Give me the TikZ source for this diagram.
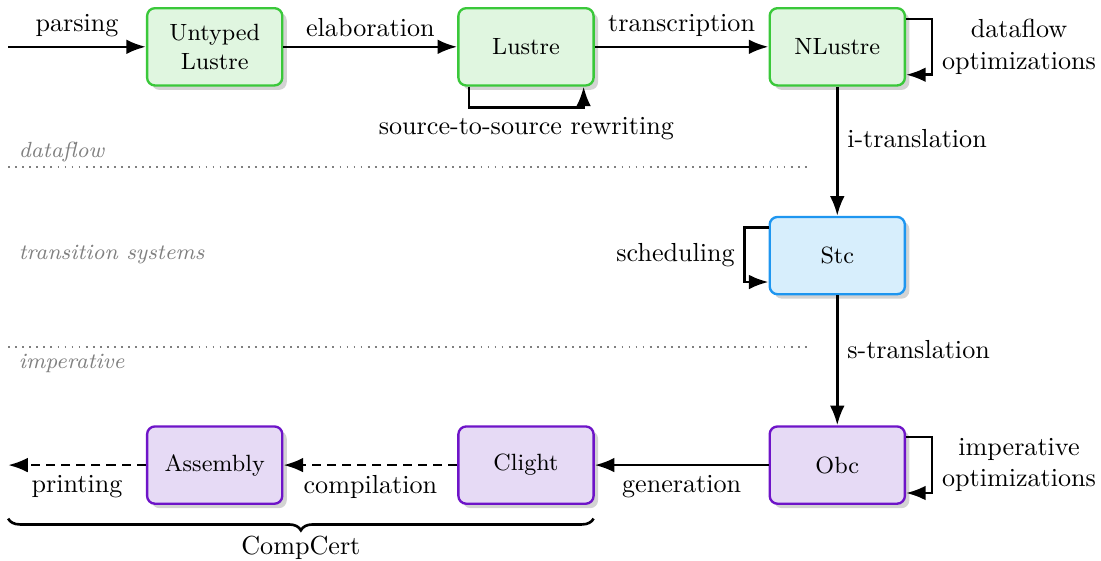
\documentclass[tikz,border=0pt]{standalone}
\usetikzlibrary{arrows.meta,positioning,shadows,decorations.pathreplacing}
\definecolor{dfline}{RGB}{58,200,58}
\definecolor{dffill}{RGB}{224,246,224}
\definecolor{tsline}{RGB}{30,150,240}
\definecolor{tsfill}{RGB}{215,238,252}
\definecolor{imline}{RGB}{110,20,200}
\definecolor{imfill}{RGB}{230,218,245}
\begin{document}
\begin{tikzpicture}[
			lang/.style={draw, line width=0.9pt, rounded corners=3pt, minimum width=1.82cm,
				minimum height=1.04cm, align=center, font=\small,
				drop shadow={opacity=0.35, shadow xshift=0.06cm, shadow yshift=-0.06cm}},
			dataflow/.style={lang, draw=dfline, fill=dffill},
			transsys/.style={lang, draw=tsline, fill=tsfill},
			imper/.style={lang, draw=imline, fill=imfill},
			pass/.style={line width=1pt, -Latex},
			cpass/.style={pass, dash pattern=on 3.5pt off 2.3pt},
			layer/.style={gray, line width=0.7pt, dash pattern=on 0.7pt off 2pt},
			layername/.style={gray, font=\fontsize{8.4}{10}\selectfont\itshape, anchor=west}
		]
		\useasboundingbox (0,0) rectangle (14.82,-7.55);
		\node[dataflow] (ulus) at (2.89,-0.63) {Untyped\\Lustre};
		\node[dataflow] (lus) at (7.08,-0.63) {Lustre};
		\node[dataflow] (nlus) at (11.27,-0.63) {NLustre};
		\node[transsys] (stc) at (11.27,-3.44) {Stc};
		\node[imper] (obc) at (11.27,-6.26) {Obc};
		\node[imper] (clight) at (7.08,-6.26) {Clight};
		\node[imper] (asm) at (2.89,-6.26) {Assembly};
		\coordinate (src) at (0.11,-0.63);
		\coordinate (out) at (0.11,-6.26);

		\draw[pass] (src) -- (ulus) node[midway, above] {parsing};
		\draw[pass] (ulus) -- (lus) node[midway, above] {elaboration};
		\draw[pass] (lus) -- (nlus) node[midway, above] {transcription};
		\draw[pass] ([xshift=0.16cm]lus.south west) -- ++(0,-0.28)
			-| ([xshift=-0.15cm]lus.south east)
			node[pos=0.25, below] {source-to-source rewriting};
		\draw[pass] ([yshift=-0.16cm]nlus.north east) -- ++(0.35,0)
			|- ([yshift=0.16cm]nlus.south east)
			node[pos=0.25, right, align=center] {dataflow\\optimizations};
		\draw[pass] (nlus) -- (stc) node[pos=0.4, right] {i-translation};
		\draw[pass] ([yshift=-0.16cm]stc.north west) -- ++(-0.32,0)
			|- ([yshift=0.18cm]stc.south west)
			node[pos=0.25, left] {scheduling};
		\draw[pass] (stc) -- (obc) node[pos=0.42, right] {s-translation};
		\draw[pass] ([yshift=-0.16cm]obc.north east) -- ++(0.35,0)
			|- ([yshift=0.16cm]obc.south east)
			node[pos=0.25, right, align=center] {imperative\\optimizations};
		\draw[pass] (obc) -- (clight) node[midway, below] {generation};
		\draw[cpass] (clight) -- (asm) node[midway, below] {compilation};
		\draw[cpass] (asm) -- (out) node[midway, below] {printing};

		\draw[layer] (0.11,-2.25) -- (10.87,-2.25);
		\draw[layer] (0.11,-4.67) -- (10.87,-4.67);
		\node[layername] (df) at (0.13,-2.04) {dataflow};
		\node[layername] (ts) at (0.13,-3.42) {transition systems};
		\node[layername] (im) at (0.13,-4.89) {imperative};

		\coordinate (ccl) at (0.11,-6.98);
		\coordinate (ccr) at (7.99,-6.98);
		\draw[line width=1pt, decorate, decoration={brace, mirror, amplitude=4.5pt}] (ccl) -- (ccr)
			node[midway, below=3pt] (cc) {CompCert};
	\end{tikzpicture}
\end{document}
